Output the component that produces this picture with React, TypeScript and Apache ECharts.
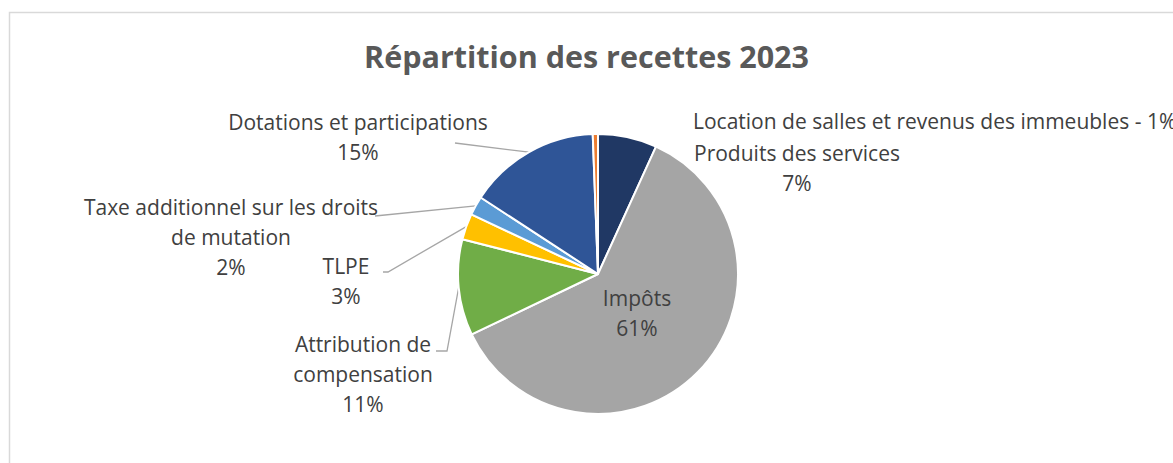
import React, { useEffect, useRef } from "react";
import * as echarts from "echarts";

const title = "Répartition des recettes 2023";
const categories = [
  "Produits des services",
  "Impôts",
  "Attribution de compensation",
  "TLPE",
  "Taxe additionnel sur les droits de mutation",
  "Dotations et participations",
  "Location de salles et revenus des immeubles",
];
// label text as displayed (line breaks as in the chart)
const labelTexts = [
  "Produits des services\n{p}",
  "Impôts\n{p}",
  "Attribution de\ncompensation\n{p}",
  "TLPE\n{p}",
  "Taxe additionnel sur les droits\nde mutation\n{p}",
  "Dotations et participations\n{p}",
  "Location de salles et revenus des immeubles - {p}",
];
const values = [6.8, 61.1, 11.1, 3.0, 2.2, 15.2, 0.6];
const colors = ["#203864", "#a5a5a5", "#70ad47", "#ffc000", "#5b9bd5", "#2f5597", "#ed7d31"];

// label placement (style only)
const labelPlacement: any[] = [
  { x: 797, y: 168, align: "center" },
  { x: 637, y: 313, align: "center" },
  { x: 363, y: 374, align: "center", line: [[447, 351], [436, 351]] },
  { x: 346, y: 281, align: "center", line: [[388, 272], [383, 272]] },
  { x: 231, y: 237, align: "center", line: [[375, 216], [375, 216]] },
  { x: 358, y: 137, align: "center", line: [[455, 143], [455, 143]] },
  { x: 693, y: 121, align: "left" },
];
const showLine = [false, false, true, true, true, true, false];

export default function App() {
  const ref = useRef<HTMLDivElement>(null);
  useEffect(() => {
    document.body.style.margin = "0";
    const chart = echarts.init(ref.current!, null, { renderer: "svg" });
    const total = values.reduce((a, b) => a + b, 0);
    chart.setOption({
      animation: false,
      backgroundColor: "#ffffff",
      title: {
        text: title,
        left: "center",
        top: 35,
        textStyle: { fontFamily: "Open Sans", fontSize: 30.5, fontWeight: "bold", color: "#595959" },
      },
      graphic: [
        {
          type: "rect",
          shape: { x: 9.5, y: 12.5, width: 1300, height: 600 },
          style: { fill: "none", stroke: "#d9d9d9", lineWidth: 1.5 },
          silent: true,
        },
      ],
      series: [
        {
          type: "pie",
          center: [598, 274],
          radius: 140,
          startAngle: 90,
          clockwise: true,
          avoidLabelOverlap: false,
          itemStyle: { borderColor: "#ffffff", borderWidth: 2 },
          label: {
            show: true,
            position: "outside",
            fontFamily: "Open Sans",
            fontSize: 21,
            lineHeight: 30,
            color: "#404040",
            formatter: (p: any) =>
              labelTexts[p.dataIndex].replace("{p}", Math.round((p.value / total) * 100) + "%"),
          },
          labelLine: { show: true, lineStyle: { color: "#a6a6a6", width: 1.3 } },
          labelLayout: (params: any) => {
            const lp = labelPlacement[params.dataIndex];
            const out: any = { x: lp.x, y: lp.y, align: lp.align, verticalAlign: "middle" };
            if (lp.line && params.labelLinePoints) {
              out.labelLinePoints = [params.labelLinePoints[0], lp.line[0], lp.line[1]];
            }
            return out;
          },
          data: categories.map((c, i) => ({
            name: c,
            value: values[i],
            itemStyle: { color: colors[i] },
            labelLine: { show: showLine[i] },
          })),
        },
      ],
    });
    return () => chart.dispose();
  }, []);
  return <div ref={ref} style={{ width: 1173, height: 463 }} />;
}
